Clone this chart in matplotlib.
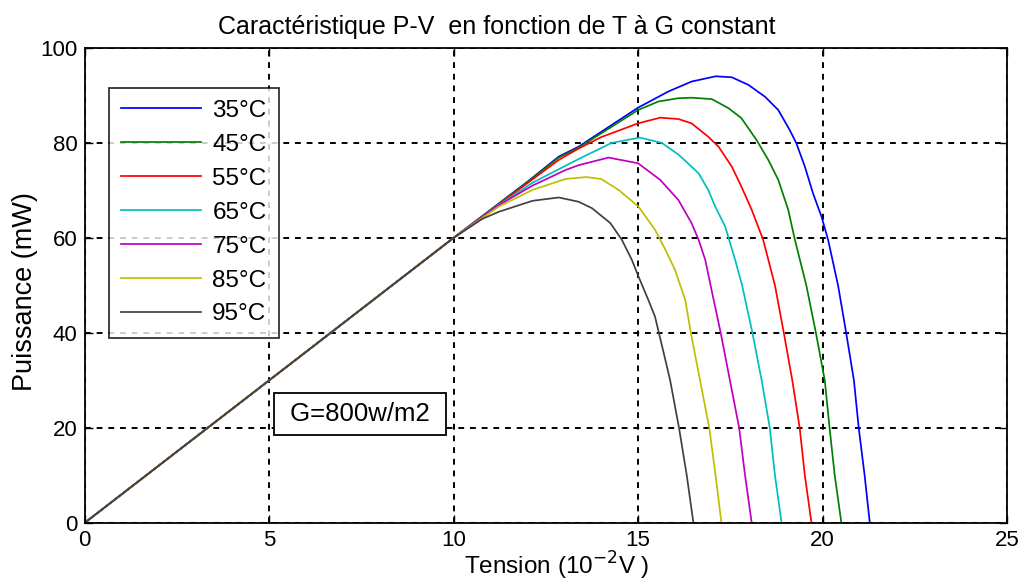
import matplotlib
matplotlib.use("Agg")
import matplotlib.pyplot as plt

plt.rcParams['font.family'] = ['Liberation Sans', 'DejaVu Sans']

labels = ["35°C", "45°C", "55°C", "65°C", "75°C", "85°C", "95°C"]
colors = ["#0000ff", "#008000", "#ff0000", "#00bfbf", "#bf00bf", "#bfbf00", "#404040"]

# Tension (10^-2 V) and Puissance (mW)
v35 = [0, 5, 10, 12, 12.85, 13.39, 15, 15.82, 16.45, 17.1, 17.54, 17.99, 18.44, 18.8, 19.11, 19.29, 19.52, 19.74, 19.97, 20.15, 20.42, 20.64, 20.85, 20.98, 21.14, 21.28]
p35 = [0, 30, 60, 71.8, 77.1, 79.2, 87.4, 90.8, 92.9, 94.0, 93.8, 92.2, 89.7, 86.9, 82.7, 79.9, 75.0, 69.4, 64.5, 59.6, 50.0, 40.0, 30.0, 20.0, 10.0, 0]

v45 = [0, 5, 10, 12, 12.85, 13.39, 15, 15.55, 16.1, 16.45, 17.0, 17.45, 17.8, 18.21, 18.53, 18.8, 19.07, 19.25, 19.56, 19.82, 20.06, 20.19, 20.33, 20.51]
p45 = [0, 30, 60, 71.7, 76.9, 79.0, 86.9, 88.7, 89.4, 89.5, 89.2, 87.3, 85.2, 80.6, 76.4, 72.2, 65.9, 59.6, 50.0, 40.0, 30.0, 20.0, 10.0, 0]

v55 = [0, 5, 10, 12, 12.85, 13.39, 14.0, 15, 15.6, 16.1, 16.45, 16.9, 17.18, 17.54, 17.8, 18.08, 18.39, 18.71, 18.95, 19.18, 19.38, 19.52, 19.70]
p55 = [0, 30, 60, 71.5, 76.4, 78.8, 81.2, 84.1, 85.3, 85.0, 84.1, 81.3, 79.2, 75.0, 70.8, 65.9, 59.6, 50.0, 40.0, 30.0, 20.0, 10.0, 0]

v65 = [0, 5, 10, 11.2, 12.14, 13.39, 14.29, 15.05, 15.64, 16.1, 16.64, 16.9, 17.09, 17.36, 17.63, 17.82, 18.1, 18.35, 18.57, 18.71, 18.89]
p65 = [0, 30, 60, 66.8, 71.6, 76.6, 80.0, 81.1, 80.0, 77.5, 73.6, 70.1, 66.6, 62.4, 55.4, 50.0, 40.0, 30.0, 20.0, 10.0, 0]

v75 = [0, 5, 10, 11.23, 12.14, 13.04, 13.39, 14.2, 15.0, 15.6, 16.09, 16.45, 16.64, 16.82, 16.99, 17.24, 17.49, 17.74, 17.90, 18.08]
p75 = [0, 30, 60, 66.9, 71.0, 74.3, 75.3, 76.9, 75.7, 72.2, 68.0, 63.1, 59.6, 55.4, 49.1, 40.0, 30.0, 20.0, 10.0, 0]

v85 = [0, 5, 10, 11.23, 12.14, 13.04, 13.6, 14.0, 14.47, 15.01, 15.46, 15.74, 16.0, 16.28, 16.43, 16.68, 16.93, 17.10, 17.26]
p85 = [0, 30, 60, 66.6, 70.1, 72.4, 72.8, 72.4, 70.1, 66.6, 61.7, 57.5, 53.3, 46.9, 40.0, 30.0, 20.0, 10.0, 0]

v95 = [0, 5, 10, 10.78, 11.23, 12.14, 12.85, 13.39, 13.75, 14.25, 14.56, 14.83, 15.01, 15.28, 15.46, 15.74, 15.87, 16.11, 16.32, 16.5]
p95 = [0, 30, 60, 64.0, 65.5, 67.8, 68.5, 67.6, 66.25, 63.1, 59.6, 55.4, 51.9, 46.9, 43.4, 34.3, 30.0, 20.0, 10.0, 0]

series_v = [v35, v45, v55, v65, v75, v85, v95]
series_p = [p35, p45, p55, p65, p75, p85, p95]

xticks = [0, 5, 10, 15, 20, 25]
yticks = [0, 20, 40, 60, 80, 100]

fig = plt.figure(figsize=(10.25, 5.83), dpi=100)
ax = fig.add_axes([0.0825, 0.103, 0.9, 0.815])

for v, p, c, l in zip(series_v, series_p, colors, labels):
    ax.plot(v, p, color=c, lw=1.25, label=l)

ax.set_xlim(0, 25)
ax.set_ylim(0, 100)
ax.set_xticks(xticks)
ax.set_yticks(yticks)
ax.grid(True, color='black', linestyle=(0, (3, 3)), linewidth=1.4)
ax.tick_params(direction='in', top=True, right=True, length=6, width=1, labelsize=16, pad=5)
for s in ax.spines.values():
    s.set_linewidth(1.3)

ax.set_title("Caractéristique P-V  en fonction de T à G constant", fontsize=18, x=0.447, pad=10)
ax.set_xlabel("Tension (10$^{-2}$V )", fontsize=17.5, va='center')
ax.xaxis.set_label_coords(0.512, -0.09)
ax.set_ylabel("Puissance (mW)", fontsize=19.5, va='center')
ax.yaxis.set_label_coords(-0.0645, 0.487)

leg = ax.legend(loc='upper left', bbox_to_anchor=(0.0265, 0.916), borderaxespad=0,
                fontsize=17.5, frameon=True, fancybox=False, handlelength=3.3,
                handletextpad=0.45, labelspacing=0.49, borderpad=0.5)
leg.get_frame().set_edgecolor('black')
leg.get_frame().set_linewidth(1.3)

ax.text(7.47, 22.9, " G=800w/m2 ", fontsize=18.5, ha='center', va='center',
        bbox=dict(boxstyle='square,pad=0.35', facecolor='white', edgecolor='black', linewidth=1.3))

fig.savefig("out.png", dpi=100)
